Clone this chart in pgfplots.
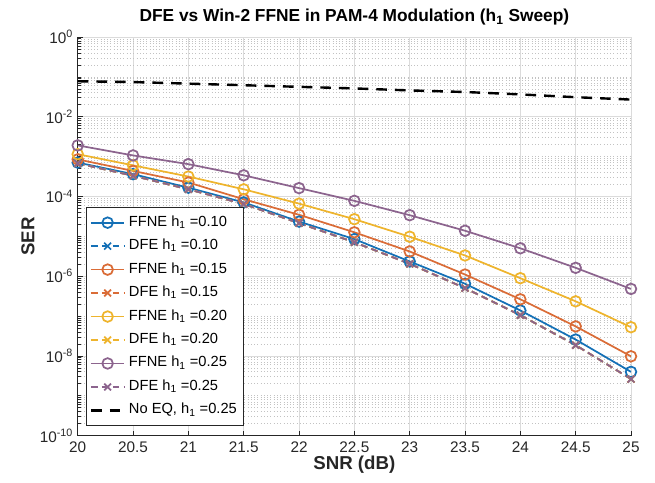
\documentclass[border=0pt]{standalone}
\usepackage{fontspec}
\setmainfont{Liberation Sans}
\usepackage{pgfplots}
\pgfplotsset{compat=1.18}
\definecolor{cB}{RGB}{20,112,182}
\definecolor{cO}{RGB}{218,108,55}
\definecolor{cY}{RGB}{238,180,45}
\definecolor{cP}{RGB}{140,100,142}
\definecolor{axc}{RGB}{38,38,38}
\begin{document}
\begin{tikzpicture}
\begin{axis}[
  scale only axis, width=415pt, height=299pt,
  ymode=log, xmin=20, xmax=25, ymin=1e-10, ymax=1,
  axis lines=left, axis line style={-, axc, line width=0.6pt},
  xtick={20,20.5,21,21.5,22,22.5,23,23.5,24,24.5,25},
  xticklabels={20,20.5,21,21.5,22,22.5,23,23.5,24,24.5,25},
  ytick={1e-10,1e-8,1e-6,1e-4,1e-2,1},
  yticklabels={10\textsuperscript{-10},10\textsuperscript{-8},10\textsuperscript{-6},10\textsuperscript{-4},10\textsuperscript{-2},10\textsuperscript{0}},
  minor ytick={2e-10,3e-10,4e-10,5e-10,6e-10,7e-10,8e-10,9e-10,1e-9,2e-9,3e-9,4e-9,5e-9,6e-9,7e-9,8e-9,9e-9,
    2e-8,3e-8,4e-8,5e-8,6e-8,7e-8,8e-8,9e-8,1e-7,2e-7,3e-7,4e-7,5e-7,6e-7,7e-7,8e-7,9e-7,
    2e-6,3e-6,4e-6,5e-6,6e-6,7e-6,8e-6,9e-6,1e-5,2e-5,3e-5,4e-5,5e-5,6e-5,7e-5,8e-5,9e-5,
    2e-4,3e-4,4e-4,5e-4,6e-4,7e-4,8e-4,9e-4,1e-3,2e-3,3e-3,4e-3,5e-3,6e-3,7e-3,8e-3,9e-3,
    2e-2,3e-2,4e-2,5e-2,6e-2,7e-2,8e-2,9e-2,1e-1,2e-1,3e-1,4e-1,5e-1,6e-1,7e-1,8e-1,9e-1},
  tick align=inside, major tick length=3.8pt, minor tick length=2.2pt,
  tick style={axc, line width=0.5pt},
  grid=both,
  major grid style={black!14, line width=0.5pt, solid},
  minor grid style={black!24, line width=0.45pt, dotted},
  ticklabel style={font=\fontsize{11.5}{13}\selectfont, text=axc},
  xticklabel style={yshift=-1pt},
  xlabel={\textbf{SNR (dB)}},
  ylabel={\textbf{SER}},
  label style={font=\fontsize{14}{16}\selectfont, text=axc},
  xlabel style={at={([yshift=-22pt]axis description cs:0.5,0)}, anchor=center},
  ylabel style={at={([xshift=-37.3pt]axis description cs:0,0.5)}, anchor=center},
  title={\textbf{DFE vs Win-2 FFNE in PAM-4 Modulation (h\textsubscript{1} Sweep)}},
  title style={font=\fontsize{13}{15}\selectfont, at={([yshift=9pt]axis description cs:0.5,1)}, anchor=center},
  legend cell align=left,
  legend style={at={(0.015,0.0245)}, anchor=south west, font=\fontsize{11}{13}\selectfont,
    draw=axc, line width=0.6pt, fill=white, inner sep=2.5pt,
    nodes={text height=8.8pt, text depth=3.6pt, inner sep=2.6pt}},
  legend image code/.code={\draw[mark repeat=2,mark phase=2] plot coordinates {(0pt,0pt) (12.5pt,0pt) (25pt,0pt)};},
]
\addplot[cB, line width=1.3pt, mark=o, mark size=4pt, mark options={solid}] coordinates {
 (20,7.08e-4) (20.5,3.63e-4) (21,1.66e-4) (21.5,7.08e-5) (22,2.34e-5) (22.5,8.51e-6)
 (23,2.34e-6) (23.5,6.46e-7) (24,1.38e-7) (24.5,2.57e-8) (25,3.98e-9)};
\addlegendentry{FFNE h\textsubscript{1} =0.10}
\addplot[cB, line width=1.3pt, dash pattern=on 5pt off 3.2pt, mark=x, mark size=3.6pt, mark options={solid}] coordinates {
 (20,6.76e-4) (20.5,3.31e-4) (21,1.51e-4) (21.5,6.46e-5) (22,2.14e-5) (22.5,7.08e-6)
 (23,2.04e-6) (23.5,5.01e-7) (24,1.05e-7) (24.5,1.86e-8) (25,2.63e-9)};
\addlegendentry{DFE h\textsubscript{1} =0.10}
\addplot[cO, line width=1.3pt, mark=o, mark size=4pt, mark options={solid}] coordinates {
 (20,8.51e-4) (20.5,4.37e-4) (21,2.24e-4) (21.5,8.51e-5) (22,3.47e-5) (22.5,1.26e-5)
 (23,4.17e-6) (23.5,1.10e-6) (24,2.63e-7) (24.5,5.50e-8) (25,9.77e-9)};
\addlegendentry{FFNE h\textsubscript{1} =0.15}
\addplot[cO, line width=1.3pt, dash pattern=on 5pt off 3.2pt, mark=x, mark size=3.6pt, mark options={solid}] coordinates {
 (20,6.76e-4) (20.5,3.31e-4) (21,1.51e-4) (21.5,6.46e-5) (22,2.14e-5) (22.5,7.08e-6)
 (23,2.04e-6) (23.5,5.01e-7) (24,1.05e-7) (24.5,1.86e-8) (25,2.63e-9)};
\addlegendentry{DFE h\textsubscript{1} =0.15}
\addplot[cY, line width=1.3pt, mark=o, mark size=4pt, mark options={solid}] coordinates {
 (20,1.15e-3) (20.5,6.03e-4) (21,3.16e-4) (21.5,1.51e-4) (22,6.61e-5) (22.5,2.69e-5)
 (23,9.77e-6) (23.5,3.31e-6) (24,8.91e-7) (24.5,2.34e-7) (25,5.25e-8)};
\addlegendentry{FFNE h\textsubscript{1} =0.20}
\addplot[cY, line width=1.3pt, dash pattern=on 5pt off 3.2pt, mark=x, mark size=3.6pt, mark options={solid}] coordinates {
 (20,6.76e-4) (20.5,3.31e-4) (21,1.51e-4) (21.5,6.46e-5) (22,2.14e-5) (22.5,7.08e-6)
 (23,2.04e-6) (23.5,5.01e-7) (24,1.05e-7) (24.5,1.86e-8) (25,2.63e-9)};
\addlegendentry{DFE h\textsubscript{1} =0.20}
\addplot[cP, line width=1.3pt, mark=o, mark size=4pt, mark options={solid}] coordinates {
 (20,1.91e-3) (20.5,1.07e-3) (21,6.46e-4) (21.5,3.39e-4) (22,1.62e-4) (22.5,7.76e-5)
 (23,3.39e-5) (23.5,1.38e-5) (24,5.01e-6) (24.5,1.62e-6) (25,4.79e-7)};
\addlegendentry{FFNE h\textsubscript{1} =0.25}
\addplot[cP, line width=1.3pt, dash pattern=on 5pt off 3.2pt, mark=x, mark size=3.6pt, mark options={solid}] coordinates {
 (20,6.76e-4) (20.5,3.31e-4) (21,1.51e-4) (21.5,6.46e-5) (22,2.14e-5) (22.5,7.08e-6)
 (23,2.04e-6) (23.5,5.01e-7) (24,1.05e-7) (24.5,1.86e-8) (25,2.63e-9)};
\addlegendentry{DFE h\textsubscript{1} =0.25}
\addplot[black, line width=1.8pt, dash pattern=on 8pt off 6pt] coordinates {
 (20,7.76e-2) (20.5,7.41e-2) (21,6.76e-2) (21.5,6.17e-2) (22,5.62e-2) (22.5,5.13e-2)
 (23,4.57e-2) (23.5,4.17e-2) (24,3.63e-2) (24.5,3.09e-2) (25,2.69e-2)};
\addlegendentry{No EQ, h\textsubscript{1} =0.25}
\end{axis}
\pgfresetboundingbox
\path[use as bounding box] ([shift={(-58.3pt,-34.9pt)}]current axis.south west) rectangle ([shift={(18pt,27.75pt)}]current axis.north east);
\end{tikzpicture}
\end{document}
